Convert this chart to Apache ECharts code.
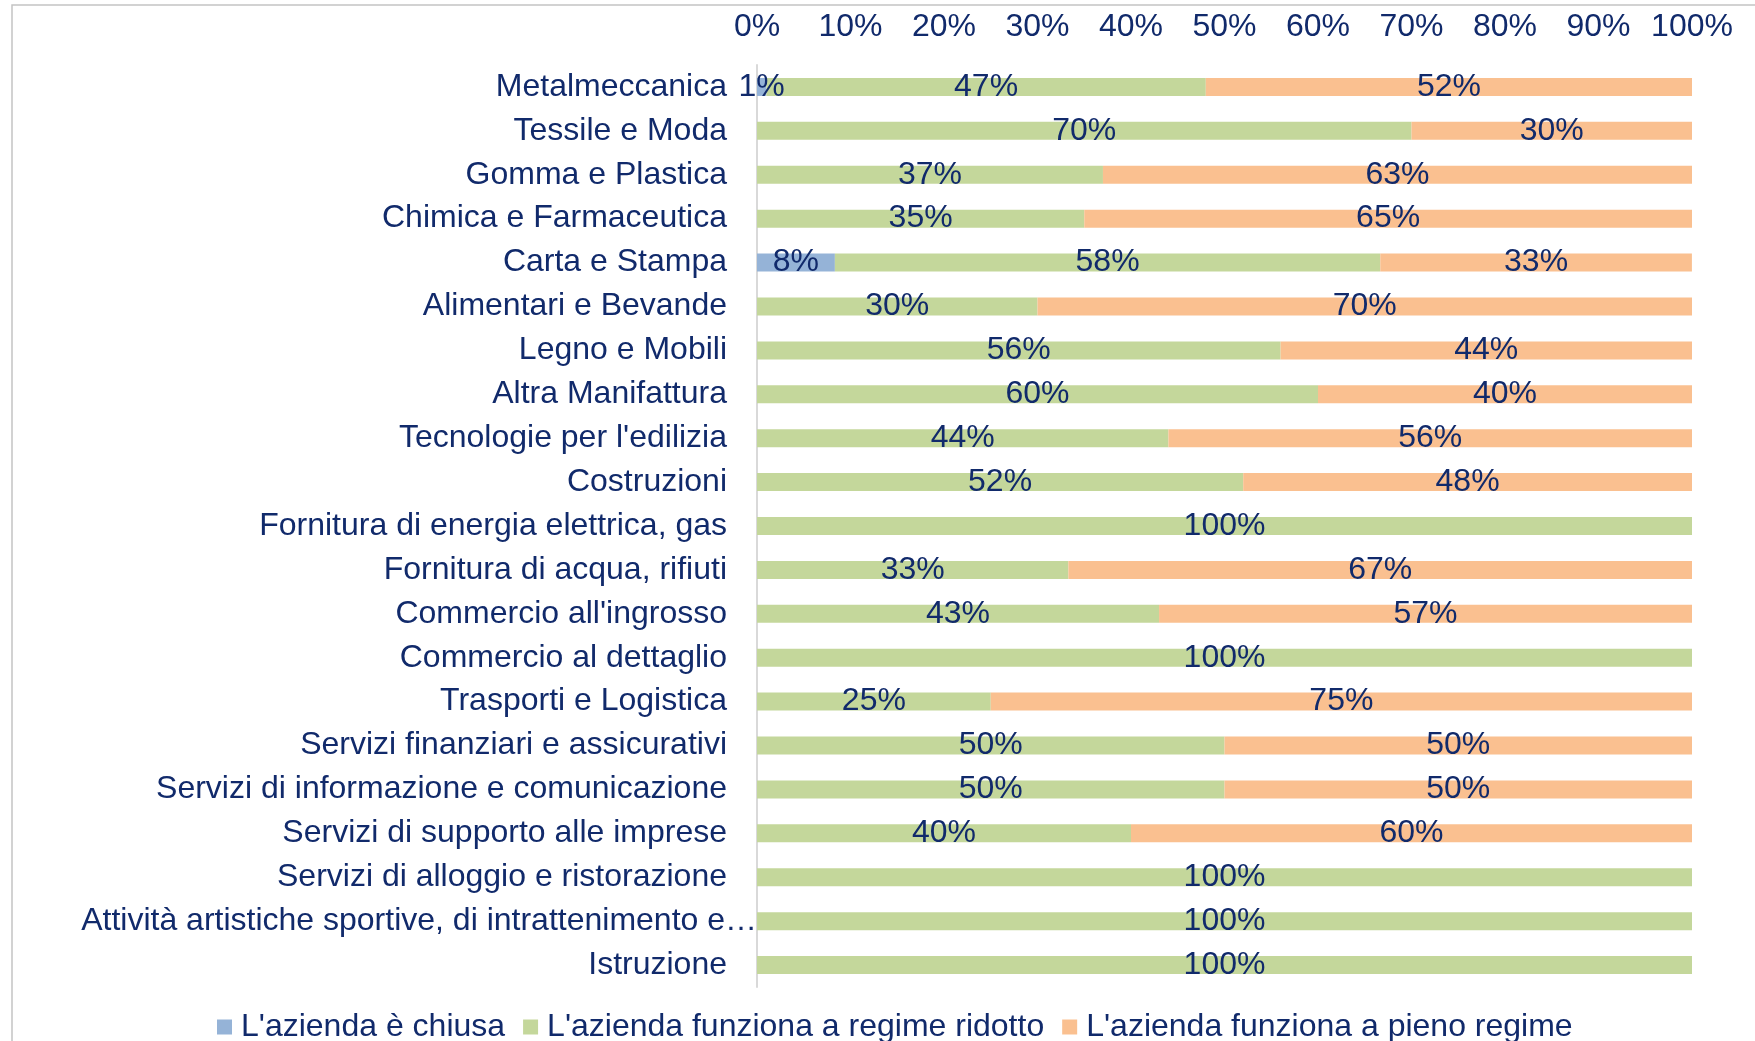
<!DOCTYPE html>
<html>
<head>
    <meta charset="utf-8">
    <title>ECharts</title>
    <script src="https://cdn.jsdelivr.net/npm/echarts@6/dist/echarts.min.js"></script>
    <style>
        html, body { margin: 0; padding: 0; background: #fff; }
    </style>
</head>
<body>
    <div id="main" style="width: 1755px;height:1041px;"></div>
    <script type="text/javascript">
// settori (dall'alto verso il basso)
var categorie = [
    'Metalmeccanica',
    'Tessile e Moda',
    'Gomma e Plastica',
    'Chimica e Farmaceutica',
    'Carta e Stampa',
    'Alimentari e Bevande',
    'Legno e Mobili',
    'Altra Manifattura',
    "Tecnologie per l'edilizia",
    'Costruzioni',
    'Fornitura di energia elettrica, gas',
    'Fornitura di acqua, rifiuti',
    "Commercio all'ingrosso",
    'Commercio al dettaglio',
    'Trasporti e Logistica',
    'Servizi finanziari e assicurativi',
    'Servizi di informazione e comunicazione',
    'Servizi di supporto alle imprese',
    'Servizi di alloggio e ristorazione',
    'Attività artistiche sportive, di intrattenimento e…',
    'Istruzione'
];

var chiusa  = [1, 0, 0, 0, 8.33, 0, 0, 0, 0, 0, 0, 0, 0, 0, 0, 0, 0, 0, 0, 0, 0];
var ridotto = [47, 70, 37, 35, 58.33, 30, 56, 60, 44, 52, 100, 33.3, 43, 100, 25, 50, 50, 40, 100, 100, 100];
var pieno   = [52, 30, 63, 65, 33.33, 70, 44, 40, 56, 48, 0, 66.7, 57, 0, 75, 50, 50, 60, 0, 0, 0];

var nomiSerie = ["L'azienda è chiusa", "L'azienda funziona a regime ridotto", "L'azienda funziona a pieno regime"];
var tickX = [0, 10, 20, 30, 40, 50, 60, 70, 80, 90, 100];

var blu = '#112a6b';
var font = "'Liberation Sans', Arial, sans-serif";

var chart = echarts.init(document.getElementById('main'));

var etichetta = {
    show: true,
    position: 'inside',
    color: blu,
    fontSize: 32,
    fontFamily: font,
    formatter: function (p) {
        if (!p.value) return '';
        return Math.round(p.value) + '%';
    }
};

function serie(nome, dati, colore) {
    return {
        name: nome,
        type: 'bar',
        stack: 'tot',
        barWidth: 18,
        data: dati,
        itemStyle: { color: colore },
        label: etichetta
    };
}

chart.setOption({
    backgroundColor: '#fff',
    animation: false,
    textStyle: { fontFamily: font },
    graphic: [{
        type: 'rect',
        shape: { x: 12, y: 5, width: 1800, height: 1100 },
        style: { fill: 'none', stroke: '#c4c4c4', lineWidth: 1.5 },
        silent: true
    }],
    grid: {
        left: 757,
        right: 63,
        top: 65,
        bottom: 54
    },
    xAxis: {
        type: 'value',
        position: 'top',
        min: tickX[0],
        max: tickX[tickX.length - 1],
        interval: 10,
        splitLine: { show: false },
        axisLine: { show: false },
        axisTick: { show: false },
        axisLabel: {
            margin: 22,
            color: blu,
            fontSize: 32,
            fontFamily: font,
            formatter: '{value}%'
        }
    },
    yAxis: {
        type: 'category',
        inverse: true,
        data: categorie,
        axisLine: { show: true, lineStyle: { color: '#d9d9d9', width: 2 } },
        axisTick: { show: false },
        axisLabel: {
            margin: 0,
            interval: 0,
            color: blu,
            formatter: function (v) {
                if (v.indexOf('Attività') === 0) return '{b|' + v + '}';
                return '{a|' + v + '}';
            },
            rich: {
                a: { fontSize: 32, fontFamily: font, color: blu, padding: [0, 30, 0, 0] },
                b: { fontSize: 32, fontFamily: font, color: blu, padding: [0, 0, 0, 0] }
            }
        }
    },
    legend: {
        top: 1006,
        left: 212,
        icon: 'rect',
        itemWidth: 15,
        itemHeight: 15,
        itemGap: 18,
        textStyle: { color: blu, fontSize: 32, fontFamily: font, padding: [0, 0, 0, 4] },
        data: nomiSerie
    },
    series: [
        serie(nomiSerie[0], chiusa, '#95b3d7'),
        serie(nomiSerie[1], ridotto, '#c4d79b'),
        serie(nomiSerie[2], pieno, '#fac090')
    ]
});
    </script>
</body>
</html>
